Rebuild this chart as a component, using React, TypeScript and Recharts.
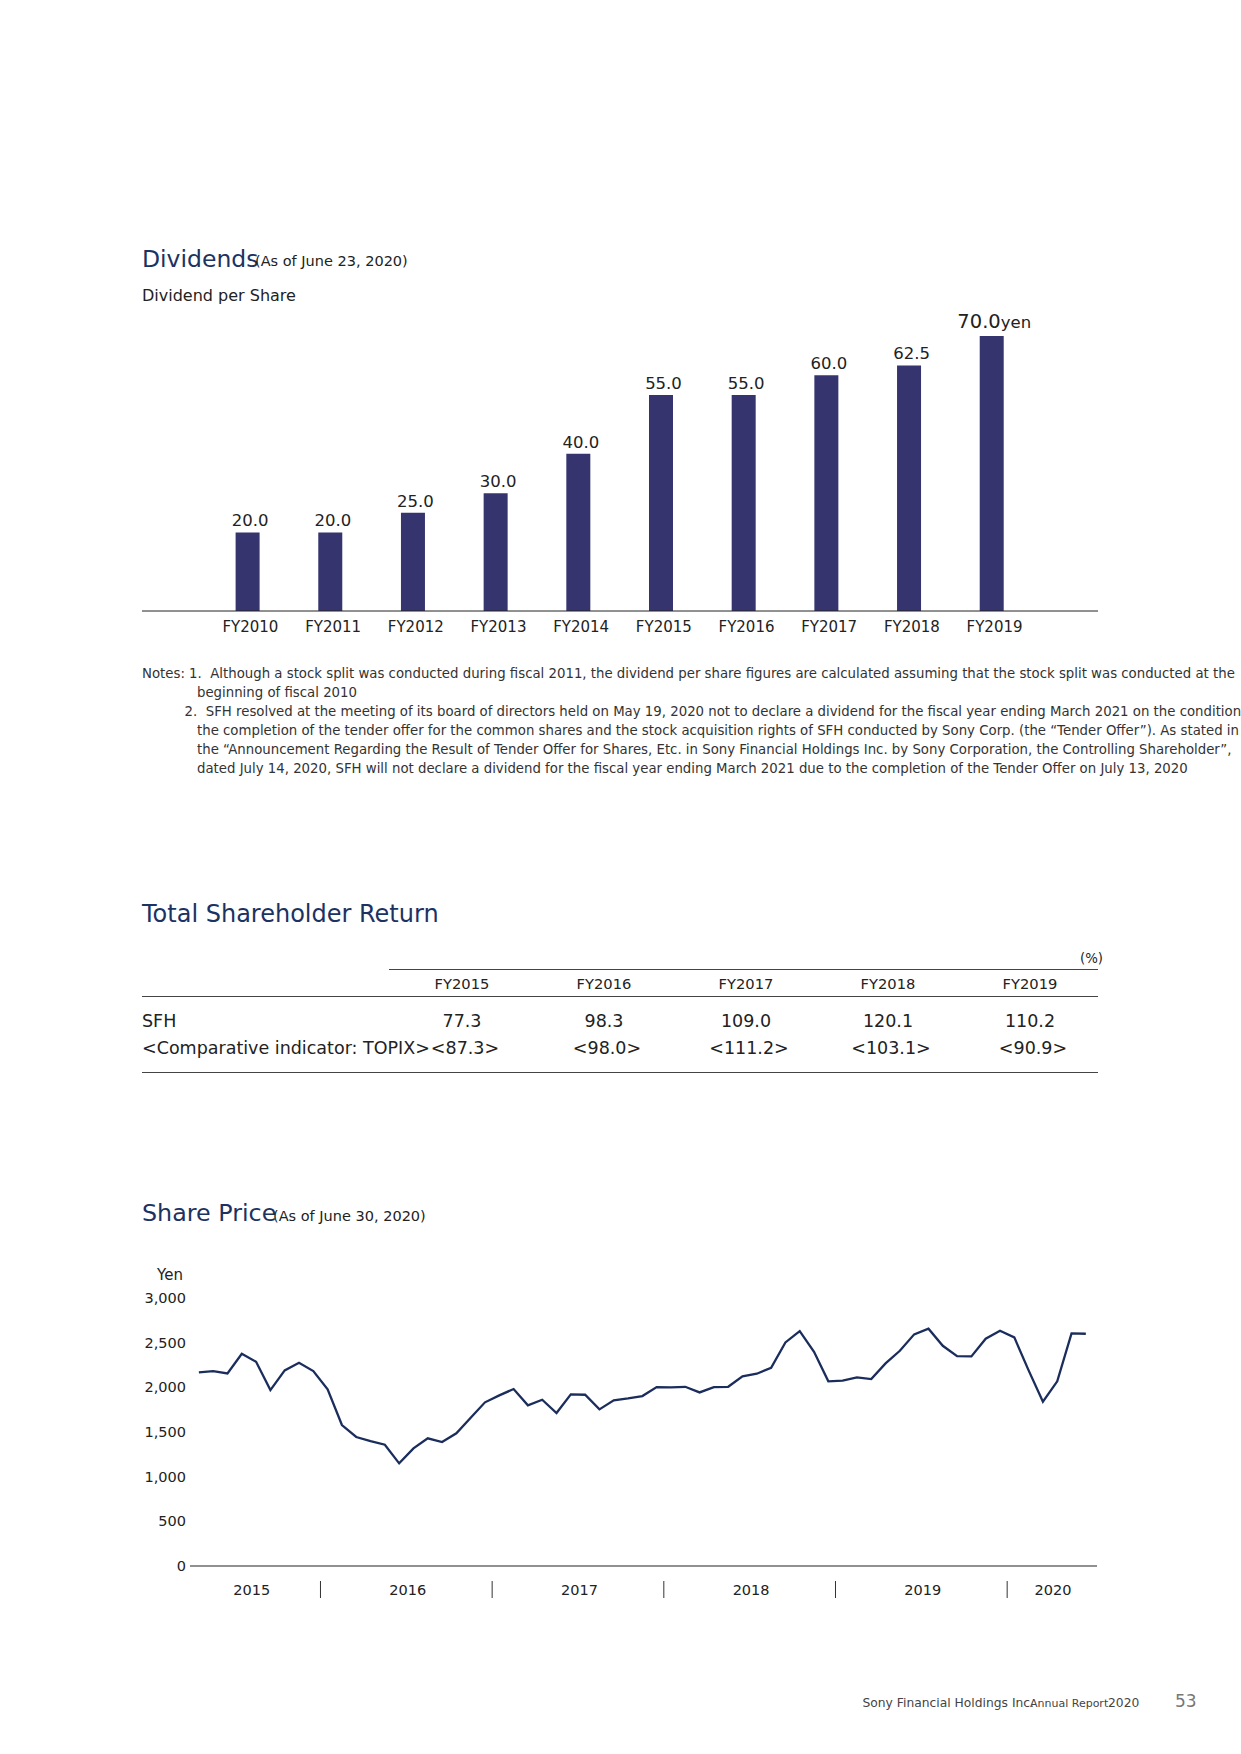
import React from "react";
import { BarChart, Bar, XAxis, YAxis, LineChart, Line } from "recharts";

const FONT = '"DejaVu Sans", sans-serif';
const NAVY = "#1c3262";
const TEXT = "#222";

// dividends
const fiscalYears = ["FY2010", "FY2011", "FY2012", "FY2013", "FY2014", "FY2015", "FY2016", "FY2017", "FY2018", "FY2019"];
const dividends = [20, 20, 25, 30, 40, 55, 55, 60, 62.5, 70];

// total shareholder return
const tsrYears = ["FY2015", "FY2016", "FY2017", "FY2018", "FY2019"];
const sfhReturn = ["77.3", "98.3", "109.0", "120.1", "110.2"];
const topixReturn = ["<87.3>", "<98.0>", "<111.2>", "<103.1>", "<90.9>"];

// share price, monthly Apr 2015 - Jun 2020
const sharePrice = [
  2167, 2182, 2156, 2376, 2286, 1969, 2190, 2275, 2182, 1977, 1578, 1444, 1399, 1358, 1149,
  1317, 1429, 1388, 1485, 1660, 1832, 1910, 1981, 1798, 1861, 1712, 1921, 1917, 1753, 1854, 1876,
  1902, 2003, 2000, 2006, 1943, 2003, 2006, 2123, 2152, 2219, 2503, 2630, 2398, 2067, 2074, 2112,
  2093, 2268, 2409, 2593, 2656, 2465, 2350, 2346, 2544, 2633, 2559, 2190, 1839, 2067, 2604, 2600,
];
const priceTicks = [0, 500, 1000, 1500, 2000, 2500, 3000];
const yearLabels = ["2015", "2016", "2017", "2018", "2019", "2020"];
const yearLabelPos = [3.7, 14.6, 26.6, 38.6, 50.6, 59.7];
const yearBreaks = [8.5, 20.5, 32.5, 44.5, 56.5];

const noteLines = [
  "Notes: 1.  Although a stock split was conducted during fiscal 2011, the dividend per share figures are calculated assuming that the stock split was conducted at the",
  "beginning of fiscal 2010",
  "2.  SFH resolved at the meeting of its board of directors held on May 19, 2020 not to declare a dividend for the fiscal year ending March 2021 on the condition of",
  "the completion of the tender offer for the common shares and the stock acquisition rights of SFH conducted by Sony Corp. (the \u201cTender Offer\u201d). As stated in",
  "the \u201cAnnouncement Regarding the Result of Tender Offer for Shares, Etc. in Sony Financial Holdings Inc. by Sony Corporation, the Controlling Shareholder\u201d,",
  "dated July 14, 2020, SFH will not declare a dividend for the fiscal year ending March 2021 due to the completion of the Tender Offer on July 13, 2020",
];
const noteX = [142, 197, 184.6, 197, 197, 197];

const divData = fiscalYears.map((fy, i) => ({ fy, value: dividends[i] }));
const priceData = sharePrice.map((price, i) => ({ m: i, price }));

function Txt({ x, cy, size, color = TEXT, align = "left", children }: any) {
  const shift = align === "center" ? "translateX(-50%)" : align === "right" ? "translateX(-100%)" : "none";
  return (
    <div
      style={{
        position: "absolute",
        left: x,
        top: cy - size * 0.52,
        fontSize: size,
        lineHeight: 1,
        color,
        whiteSpace: "pre",
        transform: shift,
      }}
    >
      {children}
    </div>
  );
}

function HLine({ x1, x2, y }: any) {
  return <div style={{ position: "absolute", left: x1, top: y, width: x2 - x1, height: 1, background: "#444" }} />;
}

const DivLabel = (props: any) => {
  const { x, y, width, value, index } = props;
  const cx = x + width / 2 + 2.5;
  if (index === dividends.length - 1) {
    return (
      <text x={cx} y={y - 8} textAnchor="middle" fill={TEXT} fontFamily={FONT}>
        <tspan fontSize={19.5}>{Number(value).toFixed(1)}</tspan>
        <tspan fontSize={16.5}>yen</tspan>
      </text>
    );
  }
  return (
    <text x={cx} y={y - 6} textAnchor="middle" fill={TEXT} fontFamily={FONT} fontSize={16.5}>
      {Number(value).toFixed(1)}
    </text>
  );
};

const YearTick = (props: any) => {
  const { x, y, payload } = props;
  const v = payload.value;
  const b = yearBreaks.indexOf(v);
  if (b >= 0) return <line x1={x} x2={x} y1={y + 15} y2={y + 32} stroke="#333" strokeWidth={1} />;
  const li = yearLabelPos.indexOf(v);
  return (
    <text x={x} y={y + 24} dy="0.355em" textAnchor="middle" fontSize={14.5} fill={TEXT} fontFamily={FONT}>
      {yearLabels[li]}
    </text>
  );
};

export default function App() {
  return (
    <div
      style={{
        position: "absolute",
        left: 0,
        top: 0,
        width: 1241,
        height: 1754,
        overflow: "hidden",
        background: "#fff",
        fontFamily: FONT,
        color: TEXT,
      }}
    >
      {/* Dividends */}
      <Txt x={142} cy={260} size={23.5} color={NAVY}>Dividends</Txt>
      <Txt x={255} cy={262} size={14.5}>(As of June 23, 2020)</Txt>
      <Txt x={142} cy={296.5} size={16}>Dividend per Share</Txt>

      <div style={{ position: "absolute", left: 142, top: 280 }}>
        <BarChart width={956} height={361} data={divData} margin={{ top: 56, right: 0, left: 0, bottom: 0 }} style={{ fontFamily: FONT }}>
          <XAxis
            dataKey="fy"
            height={30}
            padding={{ left: 64.6, right: 64.6 }}
            tickLine={false}
            tickMargin={4}
            axisLine={{ stroke: "#222" }}
            tick={{ fontSize: 15, fill: TEXT, fontFamily: FONT, dx: 2.5 }}
            interval={0}
          />
          <YAxis hide domain={[0, 70]} />
          <Bar dataKey="value" fill="#35346f" barSize={24} isAnimationActive={false} label={DivLabel} />
        </BarChart>
      </div>

      {noteLines.map((line, i) => (
        <Txt key={i} x={noteX[i]} cy={673.7 + i * 19.02} size={13.3} color="#333">{line}</Txt>
      ))}

      {/* Total Shareholder Return */}
      <Txt x={142} cy={914.5} size={24} color={NAVY}>Total Shareholder Return</Txt>
      <Txt x={1103} cy={959} size={13.3} align="right">(%)</Txt>
      <HLine x1={389} x2={1098} y={969} />
      {tsrYears.map((y, i) => (
        <Txt key={y} x={462 + i * 142} cy={985} size={14.7} align="center">{y}</Txt>
      ))}
      <HLine x1={142} x2={1098} y={996} />
      <Txt x={142} cy={1022.5} size={17.5}>SFH</Txt>
      <Txt x={142} cy={1049} size={17.5}>{"<Comparative indicator: TOPIX>"}</Txt>
      {sfhReturn.map((v, i) => (
        <Txt key={"s" + i} x={462 + i * 142} cy={1022.5} size={17.5} align="center">{v}</Txt>
      ))}
      {topixReturn.map((v, i) => (
        <Txt key={"t" + i} x={465 + i * 142} cy={1049} size={17.5} align="center">{v}</Txt>
      ))}
      <HLine x1={142} x2={1098} y={1072} />

      {/* Share Price */}
      <Txt x={142} cy={1214} size={23.8} color={NAVY}>Share Price</Txt>
      <Txt x={273} cy={1216.5} size={14.5}>(As of June 30, 2020)</Txt>
      <Txt x={170} cy={1276} size={15} align="center">Yen</Txt>

      <div style={{ position: "absolute", left: 140, top: 1258 }}>
        <LineChart width={957} height={348} data={priceData} margin={{ top: 40, right: 0, left: 0, bottom: 0 }} style={{ fontFamily: FONT }}>
          <XAxis
            dataKey="m"
            type="number"
            domain={[-0.62, 62.78]}
            allowDataOverflow
            ticks={[...yearLabelPos, ...yearBreaks].sort((a, b) => a - b)}
            interval={0}
            tick={YearTick}
            tickLine={false}
            tickSize={0}
            tickMargin={0}
            height={40}
            axisLine={{ stroke: "#222" }}
          />
          <YAxis
            domain={[0, 3000]}
            ticks={priceTicks}
            width={50}
            axisLine={false}
            tickLine={false}
            tickSize={4}
            tickMargin={0}
            tick={{ fontSize: 14.5, fill: TEXT, fontFamily: FONT }}
            tickFormatter={(v: number) => v.toLocaleString("en-US")}
          />
          <Line
            type="linear"
            dataKey="price"
            stroke="#1b2d5c"
            strokeWidth={2.3}
            dot={false}
            isAnimationActive={false}
          />
        </LineChart>
      </div>

      {/* footer */}
      <Txt x={862.5} cy={1703} size={12.3} color="#444">Sony Financial Holdings Inc.</Txt>
      <Txt x={1030} cy={1704} size={11} color="#444">Annual Report</Txt>
      <Txt x={1108} cy={1703} size={12.3} color="#444">2020</Txt>
      <Txt x={1175} cy={1702} size={17} color="#777">53</Txt>
    </div>
  );
}
